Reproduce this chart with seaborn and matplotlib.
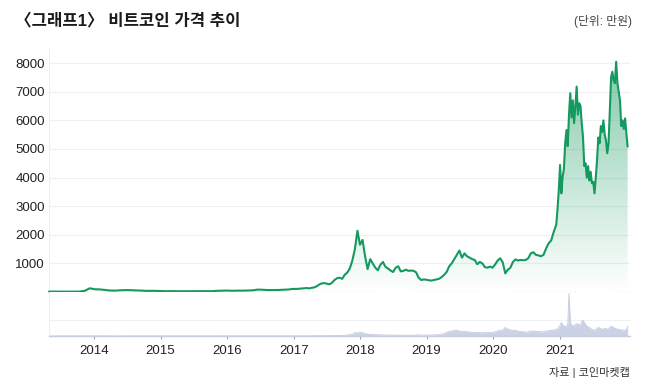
import matplotlib
matplotlib.use("Agg")
import matplotlib.pyplot as plt
import matplotlib.dates as mdates
import matplotlib.colors as mcolors
import seaborn as sns
import numpy as np
import pandas as pd

# 비트코인 가격 (만원), 구간마다 간격이 다름
# 2013-04-28 부터 28일 간격
early_price = [15, 14, 12, 10, 12, 14, 16, 40, 130,
               95, 90, 70, 52, 48, 60, 65, 65, 55, 50, 40, 40, 40,
               32, 27, 30, 27, 26, 27, 28, 32, 29, 27, 28, 42, 45,
               50, 43, 48, 47, 52, 58, 85, 75, 68, 68, 70, 80, 88]
# 2017-01-01 부터 14일 간격
mid_price = [110, 105, 115, 120, 128, 140, 125, 145, 160, 200, 260, 300, 310,
             290, 270, 320, 420, 480, 500, 460, 600, 680, 820, 1100, 1500, 2140,
             1650, 1820, 1250, 800, 1150, 1000, 850, 760, 950, 1050, 880, 820, 750,
             700, 850, 900, 720, 740, 780, 740, 750, 740, 690, 500, 420, 440,
             430, 410, 400, 420, 440, 460, 520, 600, 700, 900, 1000, 1150, 1300,
             1450, 1200, 1350, 1250, 1200, 1150, 1120, 970, 1050, 1000, 870, 850, 890,
             850, 960, 1100, 1180, 1040, 650, 780, 850, 1050, 1140, 1100, 1120, 1110,
             1120, 1180, 1350, 1390, 1300, 1280, 1250, 1300, 1520, 1700, 1800, 2100, 2350]
# 2020-12-20 부터 7일 간격
late_price = [2900, 3570, 4440, 3450, 4030, 4300, 5200, 5660,
              5100, 6200, 6950, 6100, 6700, 5900, 6500, 7180,
              6200, 6600, 6500, 5900, 5400, 4400, 4500, 4000,
              4400, 3900, 4200, 3800, 3850, 3450, 4000, 4600,
              5400, 5200, 5800, 5600, 6000, 5500, 5300, 4850,
              5200, 6300, 7500, 7700, 7400, 7300, 8050, 7300,
              7000, 6700, 5800, 6000, 5700, 6070, 5550, 5080]

# 거래량 (임의 단위)
early_vol = [0.2, 0.2, 0.3, 0.2, 0.2, 0.2, 0.3, 0.8, 1.2, 0.8, 0.5, 0.4,
             0.4, 0.3, 0.3, 0.3, 0.3, 0.2, 0.3, 0.3, 0.3, 0.2, 0.3, 0.3,
             0.2, 0.2, 0.2, 0.2, 0.2, 0.3, 0.3, 0.2, 0.3, 0.5, 0.4, 0.3,
             0.3, 0.4, 0.3, 0.3, 0.4, 0.8, 0.6, 0.4, 0.4, 0.5, 0.6, 0.7]
mid_vol = [1, 1, 1, 1, 1, 1, 1, 1, 2, 2, 3, 3, 3, 2, 2, 3, 4, 5, 4, 4, 6, 8, 10, 14, 28, 24,
           30, 26, 20, 16, 14, 12, 11, 10, 10, 9, 8, 8, 7, 7, 7, 6, 6, 6, 6, 6, 5, 6, 8, 10, 7, 7,
           8, 7, 8, 9, 10, 12, 15, 20, 30, 38, 42, 45, 48, 40, 36, 38, 35, 33, 30, 28, 30, 27, 26, 28, 27, 29,
           28, 35, 42, 45, 48, 70, 55, 50, 45, 48, 40, 36, 35, 32, 34, 40, 42, 38, 36, 35, 34, 40, 44, 46, 50, 52]
late_vol = [60, 70, 90, 110, 95, 80, 75, 85,
            95, 350, 110, 90, 85, 80, 95, 100,
            100, 90, 85, 120, 130, 110, 95, 80,
            75, 70, 60, 55, 50, 48, 55, 65,
            70, 65, 60, 55, 58, 65, 60, 55,
            60, 70, 80, 75, 70, 65, 60, 55,
            55, 50, 52, 48, 50, 45, 55, 80]

years = [2014, 2015, 2016, 2017, 2018, 2019, 2020, 2021]
price_ticks = [1000, 2000, 3000, 4000, 5000, 6000, 7000, 8000]

dates = (pd.date_range("2013-04-28", periods=len(early_price), freq="28D")
         .append(pd.date_range("2017-01-01", periods=len(mid_price), freq="14D"))
         .append(pd.date_range("2020-12-20", periods=len(late_price), freq="7D")))
df = pd.DataFrame({"date": dates,
                   "price": early_price + mid_price + late_price,
                   "volume": early_vol + mid_vol + late_vol})

GREEN = "#14995f"

sns.set_theme(style="white")
plt.rcParams["font.family"] = ["Liberation Sans", "Noto Sans CJK KR", "DejaVu Sans"]

fig = plt.figure(figsize=(6.5, 3.85), dpi=100)
ax = fig.add_axes([49 / 650, 1 - 292 / 385, 581 / 650, 244 / 385])
axv = fig.add_axes([49 / 650, 1 - 336 / 385, 581 / 650, 44 / 385])

x0 = mdates.date2num(pd.Timestamp("2013-04-28"))
x1 = mdates.date2num(pd.Timestamp("2022-01-22"))
ymax = 8530

# gradient fill under the price line
poly = ax.fill_between(df["date"], df["price"], 0, facecolor="none", edgecolor="none")
grad = np.zeros((256, 1, 4))
grad[:, 0, :3] = mcolors.to_rgb(GREEN)
grad[:, 0, 3] = np.linspace(0.55, 0.0, 256)
im = ax.imshow(grad, extent=[x0, mdates.date2num(df["date"].iloc[-1]), 0, ymax],
               aspect="auto", origin="upper", zorder=1)
im.set_clip_path(poly.get_paths()[0], ax.transData)

sns.lineplot(data=df, x="date", y="price", ax=ax, color=GREEN, lw=1.5,
             zorder=3, clip_on=False)
ax.axhline(0, color="#b5b5b5", ls=(0, (1, 2)), lw=1, zorder=2)

ax.set_xlim(x0, x1)
ax.set_ylim(0, ymax)
ax.set_yticks(price_ticks)
ax.set_yticklabels([str(v) for v in price_ticks], fontsize=9.5, color="#222222")
ax.tick_params(axis="y", length=0, pad=3)
ax.tick_params(axis="x", bottom=False, labelbottom=False)
ax.yaxis.grid(True, color="#eef0f4", lw=0.8)
ax.set_xlabel("")
ax.set_ylabel("")
for s in ["top", "right", "bottom"]:
    ax.spines[s].set_visible(False)
ax.spines["left"].set_color("#eceff4")
ax.spines["left"].set_linewidth(0.8)

# volume panel
axv.fill_between(df["date"], df["volume"], 0, color="#cbd2e5", lw=0)
sns.lineplot(data=df, x="date", y="volume", ax=axv, color="#c3cbe0", lw=0.6)
axv.axhline(130, color="#eef0f4", lw=0.8, zorder=0)
axv.set_xlim(x0, x1)
axv.set_ylim(0, 360)
axv.set_yticks([])
axv.set_xticks([mdates.date2num(pd.Timestamp(f"{y}-01-01")) for y in years])
axv.set_xticklabels([str(y) for y in years], fontsize=9.5, color="#222222")
axv.tick_params(axis="x", length=2.5, width=0.8, color="#9aa3b8", pad=4, bottom=True)
axv.set_xlabel("")
axv.set_ylabel("")
for s in ["top", "right"]:
    axv.spines[s].set_visible(False)
axv.spines["left"].set_color("#eceff4")
axv.spines["left"].set_linewidth(0.8)
axv.spines["bottom"].set_color("#c5cce0")
axv.spines["bottom"].set_linewidth(1)

fig.text(15 / 650, 1 - 21 / 385, "〈그래프1〉 비트코인 가격 추이", fontsize=12,
         fontweight="bold", color="#1a1a1a", va="center", ha="left")
fig.text(632 / 650, 1 - 21 / 385, "(단위: 만원)", fontsize=8.5,
         color="#444444", va="center", ha="right")
fig.text(630 / 650, 1 - 372 / 385, "자료 | 코인마켓캡", fontsize=8,
         color="#333333", va="center", ha="right")

fig.savefig("out.png", dpi=100)
